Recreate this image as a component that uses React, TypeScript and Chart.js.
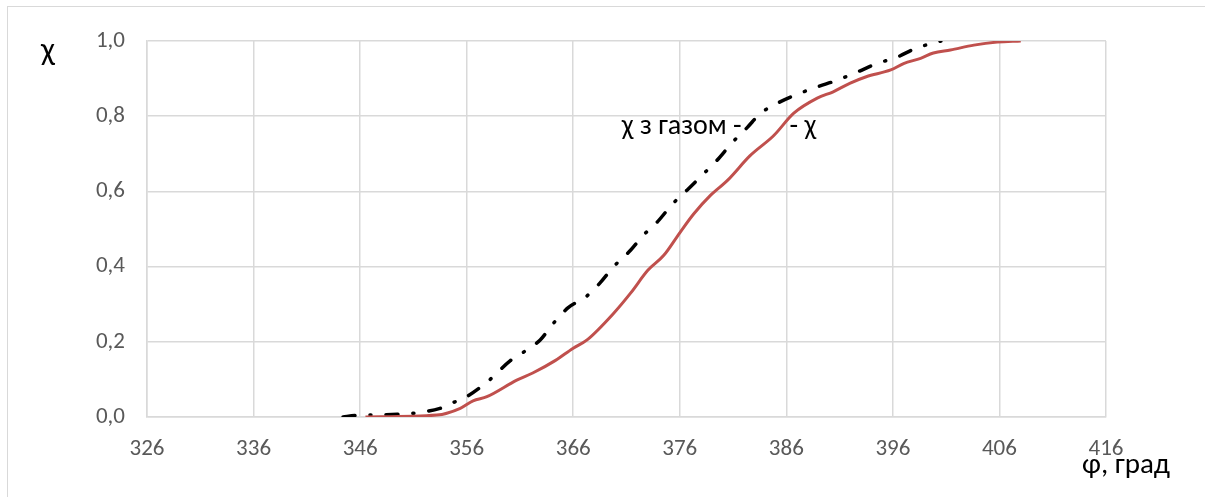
import React, { useEffect, useRef } from "react";
import { Chart, registerables } from "chart.js";

Chart.register(...registerables);

// χ (red)
const chiX = [346.5, 353.2, 355.4, 356.6, 357.9, 360.7, 362.2, 364.3, 366.0, 367.3, 369.8, 371.4, 373.0, 374.5, 376.0, 377.3, 378.9, 380.5, 382.6, 384.8, 386.7, 388.9, 390.4, 392.0, 393.5, 395.8, 397.0, 398.6, 399.8, 401.4, 403.6, 405.8, 408.0];
const chiY = [0, 0.005, 0.023, 0.043, 0.054, 0.098, 0.117, 0.15, 0.183, 0.205, 0.276, 0.33, 0.39, 0.43, 0.49, 0.54, 0.59, 0.63, 0.695, 0.748, 0.808, 0.848, 0.865, 0.888, 0.905, 0.923, 0.94, 0.954, 0.968, 0.976, 0.989, 0.997, 1.0];

// χ з газом (black dash-dot)
const gasX = [344.4, 345.5, 349.5, 353.5, 354.7, 356.0, 358.2, 360.1, 361.2, 362.9, 364.1, 365.5, 367.2, 368.5, 369.8, 371.4, 372.6, 373.9, 375.3, 376.7, 378.2, 379.5, 380.9, 382.3, 383.6, 385.2, 387.1, 388.9, 390.8, 392.7, 394.5, 396.4, 398.1, 400.5];
const gasY = [0, 0.004, 0.007, 0.023, 0.038, 0.054, 0.10, 0.15, 0.17, 0.205, 0.248, 0.29, 0.32, 0.356, 0.40, 0.444, 0.484, 0.519, 0.566, 0.604, 0.646, 0.683, 0.729, 0.769, 0.808, 0.835, 0.859, 0.878, 0.896, 0.918, 0.94, 0.957, 0.98, 1.0];

const seriesNames = ["χ з газом", "χ"];
const xMin = 326;
const xMax = 416;
const xStep = 10;
const yMin = 0;
const yMax = 1;
const yStep = 0.2;
const yAxisTitle = "χ";
const xAxisTitle = "φ, град";

const FONT = "Carlito, 'Open Sans', sans-serif";

export default function App() {
  const ref = useRef<HTMLCanvasElement>(null);

  useEffect(() => {
    if (!ref.current) return;
    const labelsPlugin = {
      id: "customText",
      afterDraw(chart: any) {
        const ctx = chart.ctx;
        const xs = chart.scales.x;
        const ys = chart.scales.y;
        ctx.save();
        ctx.fillStyle = "#000000";
        ctx.textBaseline = "middle";
        // series labels
        ctx.font = `28px ${FONT}`;
        ctx.textAlign = "right";
        ctx.fillText(seriesNames[0] + " -", xs.getPixelForValue(381.8), ys.getPixelForValue(0.77));
        ctx.textAlign = "left";
        ctx.fillText("- " + seriesNames[1], xs.getPixelForValue(386.3), ys.getPixelForValue(0.77));
        // axis titles
        ctx.font = `33px ${FONT}`;
        ctx.textAlign = "center";
        ctx.fillText(yAxisTitle, 48, 52);
        ctx.font = `29px ${FONT}`;
        ctx.textAlign = "left";
        ctx.fillText(xAxisTitle, 1082, 466);
        ctx.restore();
      },
    };

    const chart = new Chart(ref.current, {
      type: "line",
      data: {
        datasets: [
          {
            label: seriesNames[1],
            data: chiX.map((x, i) => ({ x, y: chiY[i] })),
            borderColor: "#C0504D",
            borderWidth: 3,
            pointRadius: 0,
            cubicInterpolationMode: "monotone",
            fill: false,
          },
          {
            label: seriesNames[0],
            data: gasX.map((x, i) => ({ x, y: gasY[i] })),
            borderColor: "#000000",
            borderWidth: 3.5,
            borderDash: [12, 15, 1, 15],
            borderCapStyle: "round",
            pointRadius: 0,
            cubicInterpolationMode: "monotone",
            fill: false,
          },
        ],
      },
      options: {
        animation: false,
        responsive: false,
        maintainAspectRatio: false,
        layout: { padding: { left: 0, top: 41, right: 99, bottom: 0 } },
        plugins: {
          legend: { display: false },
          tooltip: { enabled: false },
          title: { display: false },
        },
        scales: {
          x: {
            type: "linear",
            min: xMin,
            max: xMax,
            ticks: {
              stepSize: xStep,
              color: "#595959",
              font: { family: FONT, size: 23 },
              padding: 18,
              maxRotation: 0,
            },
            grid: { color: "#d9d9d9", lineWidth: 1.5, drawTicks: false },
            border: { color: "#d9d9d9", width: 1.5 },
            afterFit: (scale: any) => {
              scale.height = 80;
            },
          },
          y: {
            type: "linear",
            min: yMin,
            max: yMax,
            ticks: {
              stepSize: yStep,
              color: "#595959",
              font: { family: FONT, size: 23 },
              padding: 22,
              callback: (v: any) => Number(v).toFixed(1).replace(".", ","),
            },
            grid: { color: "#d9d9d9", lineWidth: 1.5, drawTicks: false },
            border: { color: "#d9d9d9", width: 1.5 },
            afterFit: (scale: any) => {
              scale.width = 147;
            },
          },
        },
      },
      plugins: [labelsPlugin],
    } as any);
    return () => chart.destroy();
  }, []);

  return (
    <div style={{ position: "absolute", left: 0, top: 0, width: 1205, height: 497, background: "#ffffff", overflow: "hidden" }}>
      <div style={{ position: "absolute", left: 7, top: 6, width: 1220, height: 520, border: "1.5px solid #d9d9d9" }} />
      <canvas ref={ref} width={1205} height={497} style={{ position: "absolute", left: 0, top: 0, width: 1205, height: 497 }} />
    </div>
  );
}
